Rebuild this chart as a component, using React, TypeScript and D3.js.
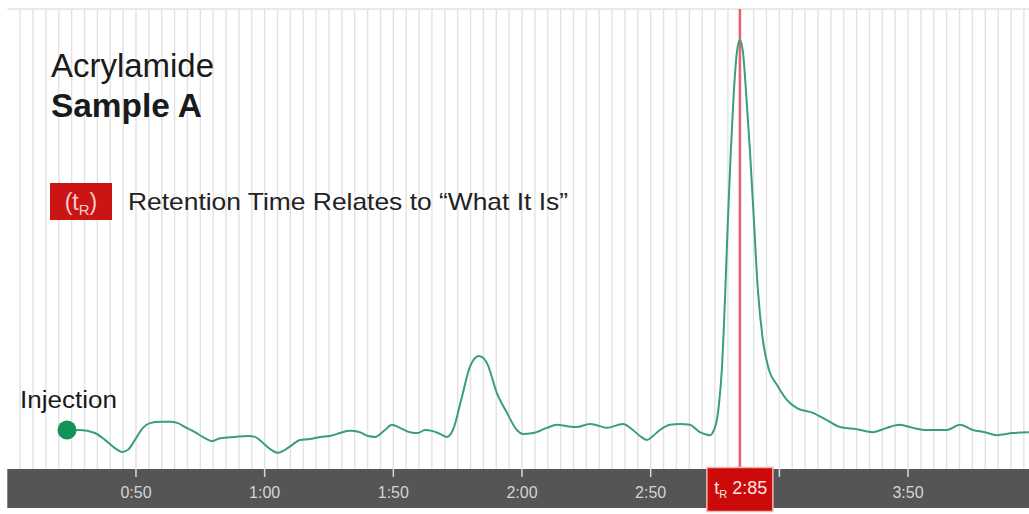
import React from "react";
import * as d3 from "d3";

// ---- data ----
const timeIdx = [
  4.64, 5.65, 6.81, 7.59, 8.37, 8.91, 9.38, 9.92, 10.54, 11.09, 11.86, 12.64, 13.26, 13.81, 14.58,
  15.36, 15.91, 16.53, 17.69, 18.7, 19.25, 19.79, 20.41, 21.03, 21.58, 22.12, 22.74, 23.52, 24.3,
  25.07, 25.85, 26.63, 27.4, 28.03, 28.57, 29.35, 29.89, 30.51, 31.29, 31.91, 32.45, 33.0, 33.62,
  34.17, 34.63, 35.33, 35.95, 36.65, 37.27, 38.05, 38.83, 39.6, 40.07, 40.85, 41.93, 42.71, 43.49,
  44.26, 45.27, 46.05, 46.6, 47.84, 48.62, 49.17, 49.71, 50.17, 50.72, 51.49, 52.27, 53.04, 53.82,
  54.6, 54.91, 55.14, 55.3, 55.53, 55.77, 56.0, 56.23, 56.47, 56.7, 56.93, 57.17, 57.4, 57.71,
  58.02, 58.33, 58.72, 59.19, 59.81, 60.58, 61.36, 62.6, 63.69, 64.7, 66.02, 67.26, 68.35, 69.36,
  70.37, 71.46, 73.02, 74.03, 75.04, 75.97, 76.9, 78.14, 79.39,
];
const signal = [
  9.3, 9.3, 8.6, 7.0, 5.1, 4.2, 4.7, 7.0, 9.8, 10.9, 11.2, 11.2, 10.9, 10.0, 8.8,
  7.4, 6.7, 7.4, 7.7, 7.9, 7.7, 6.5, 4.9, 4.0, 4.7, 5.8, 7.0, 7.2, 7.7,
  7.9, 8.6, 9.1, 8.8, 7.9, 7.7, 9.3, 10.5, 9.8, 8.8, 8.6, 9.3, 9.1, 8.4,
  7.7, 9.3, 17.0, 24.0, 26.5, 24.9, 17.9, 13.3, 9.3, 8.4, 8.6, 9.8, 10.5, 10.2,
  10.0, 10.7, 10.2, 9.8, 10.7, 9.3, 7.9, 7.0, 7.9, 9.3, 10.5, 10.7, 10.5, 8.8,
  8.1, 9.3, 11.6, 15.1, 23.3, 39.5, 58.1, 74.4, 88.4, 97.2, 100, 97.2, 88.4, 74.4,
  58.1, 41.9, 30.2, 23.3, 19.8, 16.3, 14.4, 13.3, 11.6, 10.0, 9.5, 8.8, 9.8, 10.5,
  9.8, 9.3, 9.3, 10.5, 9.3, 8.8, 8.1, 8.6, 8.8,
];
const tickPositions = [10, 20, 30, 40, 50, 60, 70];
const tickLabels = ["0:50", "1:00", "1:50", "2:00", "2:50", "", "3:50"];
const injectionTime = 4.64;
const injectionSignal = 9.3;
const retentionTime = 56.93;
const retentionLabel = "2:85";
const titleLine1 = "Acrylamide";
const titleLine2 = "Sample A";
const legendText = "Retention Time Relates to \u201CWhat It Is\u201D";
const injectionText = "Injection";

const W = 1029;
const H = 514;
const FONT = "'Liberation Sans', Arial, Helvetica, sans-serif";

export default function App() {
  const left = 7.3;
  const top = 9;
  const barTop = 469;
  const barBottom = 508;
  const x = d3.scaleLinear().domain([0, 79.4]).range([left, W]);
  const y = d3.scaleLinear().domain([0, 100]).range([470, 40]);
  const pts = timeIdx.map((t, i) => [t, signal[i]] as [number, number]);
  const line = d3
    .line<[number, number]>()
    .x((d) => x(d[0]))
    .y((d) => y(d[1]))
    .curve(d3.curveMonotoneX);
  const grid = d3.range(1, 80);
  const rx = x(retentionTime);

  return (
    <svg
      width={W}
      height={H}
      style={{ position: "absolute", left: 0, top: 0, display: "block", background: "#fff" }}
      fontFamily={FONT}
    >
      {/* grid */}
      {grid.map((g) => (
        <line key={g} x1={x(g)} x2={x(g)} y1={top} y2={barTop} stroke="#e2e2e2" strokeWidth={1.4} />
      ))}
      <line x1={left} x2={W} y1={top} y2={top} stroke="#e2e2e2" strokeWidth={1.4} />

      {/* titles */}
      <text x={51} y={77} fontSize={33} fill="#1a1a1a" textLength={163} lengthAdjust="spacingAndGlyphs">{titleLine1}</text>
      <text x={51} y={117} fontSize={33} fontWeight="bold" fill="#1a1a1a" textLength={151} lengthAdjust="spacingAndGlyphs">{titleLine2}</text>

      {/* legend */}
      <rect x={50} y={183} width={62} height={37} fill="#cc1414" />
      <text x={81} y={210} fontSize={23} fill="#f6cccc" textAnchor="middle">
        (t<tspan fontSize={15} dy={5}>R</tspan><tspan dy={-5}>)</tspan>
      </text>
      <text x={128} y={210} fontSize={24} fill="#222" textLength={440} lengthAdjust="spacingAndGlyphs">{legendText}</text>

      {/* retention line */}
      <line x1={rx} x2={rx} y1={top} y2={barTop} stroke="#e8656b" strokeWidth={2.5} />

      {/* curve */}
      <path d={line(pts) || ""} fill="none" stroke="#3a9e7c" strokeWidth={2} />

      {/* injection */}
      <circle cx={x(injectionTime)} cy={y(injectionSignal)} r={9.5} fill="#13935a" />
      <text x={20} y={408} fontSize={23} fill="#1a1a1a" textLength={97} lengthAdjust="spacingAndGlyphs">{injectionText}</text>

      {/* axis bar */}
      <rect x={left} y={barTop} width={W - left} height={barBottom - barTop} fill="#555555" />
      {tickPositions.map((t, i) => (
        <g key={t}>
          <line x1={x(t)} x2={x(t)} y1={barTop} y2={barTop + 8} stroke="#d8d8d8" strokeWidth={1.5} />
          <text x={x(t)} y={498} fontSize={16} fill="#d4d4d4" textAnchor="middle">{tickLabels[i]}</text>
        </g>
      ))}

      {/* retention marker */}
      <rect x={rx - 33} y={467.5} width={66} height={44} fill="#cc0a0a" stroke="#f3b5b5" strokeWidth={1.5} />
      <text x={rx + 1} y={494} fontSize={18} fill="#fbe4e4" textAnchor="middle">
        t<tspan fontSize={11} dy={4}>R</tspan>
        <tspan dy={-4}> {retentionLabel}</tspan>
      </text>
    </svg>
  );
}
